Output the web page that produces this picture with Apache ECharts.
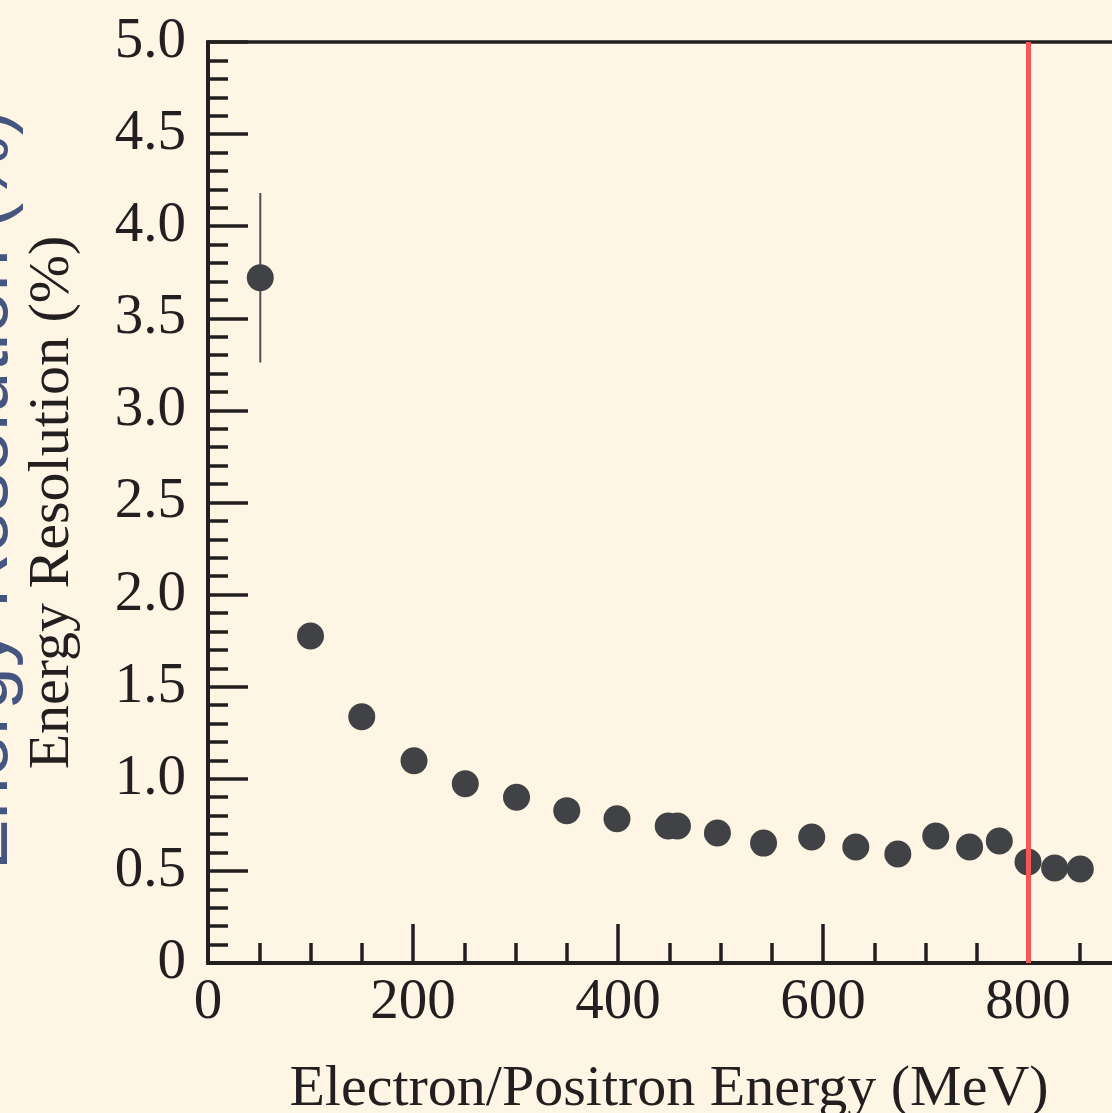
<!DOCTYPE html>
<html>
<head>
<meta charset="utf-8">
<title>Energy resolution</title>
<script src="https://cdn.jsdelivr.net/npm/echarts@6/dist/echarts.min.js"></script>
<style>
    html, body { margin: 0; padding: 0; background: #fef5e4; }
    #chart { width: 1112px; height: 1113px; }
</style>
</head>
<body>
<div id="chart"></div>
<script>
// beam energy (MeV) and measured resolution (%)
const energy = [51, 100, 150, 201, 251, 301, 350, 399, 449, 458, 497, 542, 589, 632, 673, 710, 743, 772, 800, 826, 851];
const resolution = [3.72, 1.775, 1.337, 1.098, 0.973, 0.90, 0.827, 0.783, 0.744, 0.744, 0.706, 0.651, 0.684, 0.630, 0.592, 0.689, 0.630, 0.662, 0.548, 0.516, 0.510];
// error bar half-width (only the first one sticks out of its marker)
const resErr = [0.46, 0, 0, 0, 0, 0, 0, 0, 0, 0, 0, 0, 0, 0, 0, 0, 0, 0, 0, 0, 0];
const cutEnergy = 800;

const ink = "#231f20";
const serif = "Liberation Serif";

const chart = echarts.init(document.getElementById("chart"));

const points = energy.map((e, i) => [e, resolution[i]]);
const errBars = energy
    .map((e, i) => [e, resolution[i] - resErr[i], resolution[i] + resErr[i]])
    .filter((d, i) => resErr[i] > 0);

chart.setOption({
    backgroundColor: "#fef5e4",
    animation: false,
    grid: {
        left: 208,
        top: 42,
        right: -121,
        bottom: 150,
        containLabel: false,
        outerBoundsMode: "none",
        show: true,
        borderColor: ink,
        borderWidth: 3.5,
        backgroundColor: "transparent",
    },
    graphic: [
        {
            type: "text",
            x: 24,
            y: 490,
            rotation: Math.PI / 2,
            silent: true,
            style: {
                text: "Energy Resolution (%)",
                fill: "#44557f",
                font: '76px "Liberation Sans"',
                textAlign: "center",
                textVerticalAlign: "bottom",
                align: "center",
                verticalAlign: "bottom",
            },
        },
    ],
    xAxis: {
        type: "value",
        min: 0,
        max: 1000,
        interval: 200,
        name: "Electron/Positron Energy (MeV)",
        nameLocation: "middle",
        nameGap: 98,
        nameTextStyle: {
            fontFamily: serif,
            fontSize: 58,
            color: ink,
            padding: [0, 103, 0, 0],
        },
        axisLine: { show: true, lineStyle: { color: ink, width: 4 } },
        axisTick: { show: true, inside: true, length: 39, lineStyle: { color: ink, width: 3.5 } },
        minorTick: { show: true, splitNumber: 4, length: 20, lineStyle: { color: ink, width: 3.5 } },
        axisLabel: {
            margin: 12,
            fontFamily: serif,
            fontSize: 57,
            color: ink,
            formatter: (v) => String(v),
        },
        splitLine: { show: false },
    },
    yAxis: {
        type: "value",
        min: 0,
        max: 5,
        interval: 0.5,
        name: "Energy Resolution (%)",
        nameLocation: "middle",
        nameRotate: 90,
        nameGap: 126,
        nameTextStyle: { fontFamily: serif, fontSize: 58, color: ink },
        axisLine: { show: true, lineStyle: { color: ink, width: 4 } },
        axisTick: { show: true, inside: true, length: 40, lineStyle: { color: ink, width: 3.5 } },
        minorTick: { show: true, splitNumber: 5, length: 20, lineStyle: { color: ink, width: 3.5 } },
        axisLabel: {
            margin: 22,
            fontFamily: serif,
            fontSize: 57,
            color: ink,
            formatter: (v) => (v === 0 ? "0" : v.toFixed(1)),
        },
        splitLine: { show: false },
    },
    series: [
        {
            type: "custom",
            name: "error",
            silent: true,
            data: errBars,
            renderItem: (params, api) => {
                const lo = api.coord([api.value(0), api.value(1)]);
                const hi = api.coord([api.value(0), api.value(2)]);
                return {
                    type: "line",
                    shape: { x1: lo[0], y1: lo[1], x2: hi[0], y2: hi[1] },
                    style: { stroke: "#4e4f52", lineWidth: 2 },
                };
            },
        },
        {
            type: "scatter",
            name: "resolution",
            data: points,
            symbol: "circle",
            symbolSize: 27,
            itemStyle: { color: "#414245", opacity: 1 },
            z: 3,
            markLine: {
                silent: true,
                symbol: "none",
                label: { show: false },
                lineStyle: { color: "#f75656", width: 5, type: "solid" },
                data: [{ xAxis: cutEnergy }],
            },
        },
    ],
});
</script>
</body>
</html>
